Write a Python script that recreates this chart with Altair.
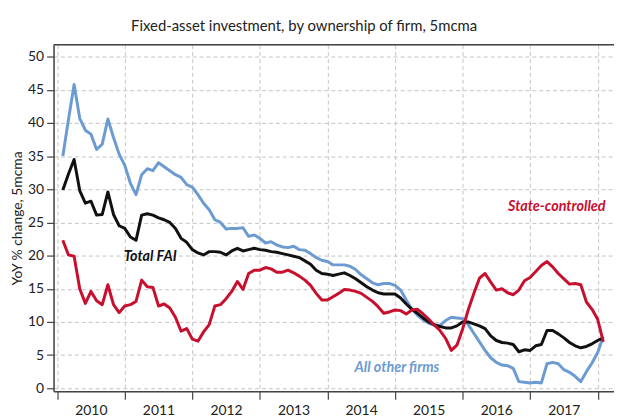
import altair as alt
import pandas as pd

# Monthly observations, Feb 2010 .. Feb 2018 (5-month centred moving average, YoY %)
periods = [str(p) for p in pd.period_range("2010-02", "2018-02", freq="M")]

all_other_firms = [35.0, 40.5, 45.8, 40.7, 38.9, 38.3, 36.0, 36.8, 40.6, 37.8,
                   35.3, 33.6, 30.9, 29.2, 32.2, 33.1, 32.8, 34.0, 33.4, 32.8,
                   32.2, 31.8, 30.7, 30.3, 29.2, 27.9, 26.9, 25.4, 25.0, 24.0,
                   24.1, 24.1, 24.2, 22.9, 23.1, 22.6, 21.9, 22.1, 21.6, 21.3,
                   21.2, 21.4, 20.9, 20.8, 20.3, 19.7, 19.3, 19.1, 18.6, 18.6,
                   18.6, 18.4, 17.9, 17.1, 16.5, 15.9, 15.6, 15.8, 15.8, 15.5,
                   14.8, 13.3, 11.9, 11.0, 10.3, 9.8, 9.5, 9.5, 10.2, 10.7,
                   10.6, 10.5, 9.6, 8.3, 7.0, 5.7, 4.6, 3.9, 3.5, 3.4,
                   3.0, 1.0, 0.9, 0.8, 0.9, 0.8, 3.7, 3.9, 3.7, 2.8,
                   2.4, 1.8, 1.0, 2.5, 3.8, 5.4, 7.8]

total_fai = [29.9, 32.3, 34.5, 29.8, 27.9, 28.2, 26.1, 26.2, 29.6, 26.2,
             24.5, 24.1, 22.8, 22.3, 26.1, 26.3, 26.1, 25.7, 25.4, 25.0,
             24.1, 22.6, 22.0, 20.9, 20.4, 20.1, 20.6, 20.6, 20.5, 20.1,
             20.7, 21.1, 20.7, 20.9, 21.1, 20.9, 20.8, 20.6, 20.5, 20.3,
             20.1, 19.9, 19.7, 19.2, 18.7, 17.8, 17.3, 17.2, 17.0, 17.2,
             17.4, 17.0, 16.5, 15.9, 15.3, 14.8, 14.4, 14.2, 14.2, 14.2,
             13.6, 12.7, 11.9, 11.3, 10.6, 10.0, 9.6, 9.3, 9.1, 9.1,
             9.4, 10.0, 10.0, 9.7, 9.4, 9.0, 7.9, 7.2, 6.9, 6.8,
             6.6, 5.5, 5.8, 5.7, 6.4, 6.6, 8.7, 8.7, 8.2, 7.6,
             6.9, 6.4, 6.1, 6.3, 6.7, 7.2, 7.6]

state_controlled = [22.3, 20.1, 19.9, 15.0, 12.8, 14.6, 13.2, 12.6, 15.6, 12.6,
                    11.4, 12.4, 12.6, 13.1, 16.3, 15.3, 15.2, 12.4, 12.7, 12.1,
                    10.7, 8.6, 9.0, 7.4, 7.1, 8.5, 9.6, 12.4, 12.6, 13.5,
                    14.6, 16.1, 14.9, 17.3, 17.8, 17.8, 18.2, 18.0, 17.5, 17.5,
                    17.8, 17.4, 16.9, 16.3, 15.5, 14.3, 13.3, 13.3, 13.8, 14.3,
                    14.9, 14.8, 14.6, 14.3, 13.7, 13.1, 12.3, 11.3, 11.5, 11.8,
                    11.7, 11.2, 11.8, 11.9, 11.2, 10.4, 9.5, 8.7, 7.5, 5.7,
                    6.5, 8.9, 11.8, 14.3, 16.6, 17.3, 16.0, 14.8, 15.0, 14.4,
                    14.1, 14.8, 16.2, 16.7, 17.6, 18.5, 19.1, 18.3, 17.3, 16.5,
                    15.7, 15.8, 15.6, 13.0, 11.9, 10.4, 7.0]

series_names = ["All other firms", "Total FAI", "State-controlled"]
series_colors = ["#6c9bd2", "#111111", "#c8102e"]
year_labels = [2010, 2011, 2012, 2013, 2014, 2015, 2016, 2017, 2018]

# annotation labels (placed in data coordinates: month index, value)
label_text = ["Total FAI", "State-controlled", "All other firms"]
label_month = [11.8, 97.4, 52.8]
label_value = [19.8, 27.3, 3.1]
label_align = ["left", "right", "left"]


def month_pos(p):
    y, m = p.split("-")
    return (int(y) - 2010) * 12 + (int(m) - 1)


rows = []
for name, vals in zip(series_names, [all_other_firms, total_fai, state_controlled]):
    for p, v in zip(periods, vals):
        rows.append({"period": p, "month": month_pos(p), "value": v, "series": name})
df = pd.DataFrame(rows)

labels_df = pd.DataFrame({"text": label_text, "month": label_month,
                          "value": label_value, "series": label_text})

FONT = "Lato"

tick_vals = [(y - 2010) * 12 for y in year_labels]

xscale = alt.Scale(domain=[-0.65, 98.9], nice=False, zero=False)
yscale = alt.Scale(domain=[-0.45, 51.8], nice=False, zero=False)
cscale = alt.Scale(domain=series_names, range=series_colors)

grid_kw = dict(grid=True, gridDash=[4, 3], gridColor="#c4c4c4", gridWidth=1,
               domainColor="#444", domainWidth=1.5, tickColor="#444", tickWidth=1.2)

x_enc = alt.X("month:Q", scale=xscale,
              axis=alt.Axis(values=tick_vals, title=None, labelOverlap=False,
                            labelExpr="datum.value >= 96 ? '' : '' + (2010 + datum.value / 12)",
                            labelOffset=34, labelPadding=5, tickSize=8,
                            labelFont=FONT, labelFontSize=14, labelColor="#222", **grid_kw))
y_enc = alt.Y("value:Q", scale=yscale,
              axis=alt.Axis(values=list(range(0, 51, 5)), title="YoY % change, 5mcma",
                            labelOverlap=False,
                            titleFont=FONT, titleFontSize=14, titleFontWeight="normal",
                            titleColor="#222", titlePadding=3,
                            labelFont=FONT, labelFontSize=14, labelColor="#222",
                            labelPadding=3, tickSize=7, **grid_kw))
c_enc = alt.Color("series:N", scale=cscale, legend=None)

layers = []
for name in series_names:
    layers.append(
        alt.Chart(df).transform_filter(alt.datum.series == name)
        .mark_line(strokeWidth=3, strokeJoin="round")
        .encode(x=x_enc, y=y_enc, color=c_enc, order="month:Q")
    )

texts = []
for t, a in zip(label_text, label_align):
    texts.append(
        alt.Chart(labels_df).transform_filter(alt.datum.text == t)
        .mark_text(font=FONT, fontSize=14.5, fontStyle="italic", fontWeight="bold",
                   align=a, baseline="middle")
        .encode(x=x_enc, y=y_enc, text="text:N", color=c_enc)
    )

top_frame = alt.Chart(pd.DataFrame({"v": [0]})).mark_rule(color="#444", strokeWidth=1.5).encode(
    y=alt.value(0))

chart = alt.layer(top_frame, *layers, *texts).properties(
    width=566, height=350,
    title=alt.TitleParams("Fixed-asset investment, by ownership of firm, 5mcma",
                          font=FONT, fontSize=15, fontWeight="normal", color="#222",
                          anchor="middle", dx=-30, offset=10),
    padding={"left": 46, "top": 35, "right": 0, "bottom": 25},
    autosize=alt.AutoSizeParams(type="none"),
).configure_view(stroke=None).configure(background="white")

chart.save("out.html", embed_options={"renderer": "svg", "actions": False})
